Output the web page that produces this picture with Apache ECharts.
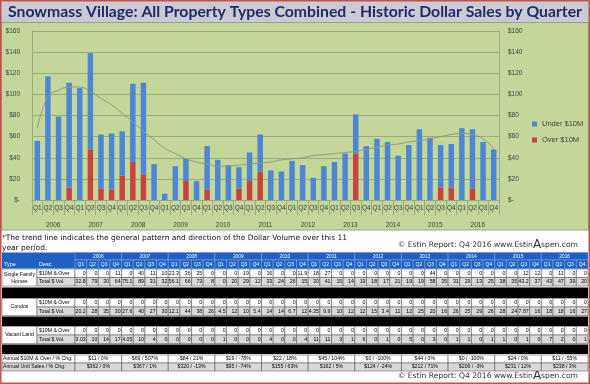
<!DOCTYPE html>
<html><head><meta charset="utf-8">
<script src="https://cdn.jsdelivr.net/npm/echarts@6/dist/echarts.min.js"></script>
<style>html,body{margin:0;padding:0;background:#fff}#c{width:590px;height:384px}</style>
</head><body><div id="c"></div>
<script>
// ---------------- DATA ----------------
const quarters = ['Q1','Q2','Q3','Q4','Q1','Q2','Q3','Q4','Q1','Q2','Q3','Q4','Q1','Q2','Q3','Q4',
  'Q1','Q2','Q3','Q4','Q1','Q2','Q3','Q4','Q1','Q2','Q3','Q4','Q1','Q2','Q3','Q4',
  'Q1','Q2','Q3','Q4','Q1','Q2','Q3','Q4','Q1','Q2','Q3','Q4'];
const years = ['2006','2007','2008','2009','2010','2011','2012','2013','2014','2015','2016'];
const underVals = [56,117,79,99, 106,91,51,53, 42,74,87,34, 6,32,21,18, 41,38,33,20, 27,35,28,27,
  37,33,21,32, 36,44,37,51, 58,55,42,52, 67,59,40,41, 68,56,55,48];
const overVals = [0,0,0,12, 0,48,11,10, 23,36,24,0, 0,0,18,0, 10,0,0,11, 18,27,0,0,
  0,0,0,0, 0,0,44,0, 0,0,0,0, 0,0,12,12, 0,11,0,0];
const trendVals = [68,98,104,107, 107,103,96,90, 82,74,65,57, 49,44,39,36, 34,32,32,33, 34,35,36,38,
  39,40,42,43, 44,45,46,48, 50,52,53,55, 56,58,60,62, 63,62,58,49];
const yTickVals = [0,20,40,60,80,100,120,140,160];

// table data
const sf10  = [0,0,0,11, 0,40,11,10, 23.3,36,25,0, 0,0,19,0, 16,0,0,11.9, 18,27,0,0, 0,0,0,0, 0,0,44,0, 0,0,0,0, 0,0,12,12, 0,11,0,0];
const sfTot = [32.8,79,30,64, 75.1,89,31,32, 56.1,66,73,8, 0,20,29,12, 33,24,26,15, 30,41,15,14, 19,18,17,21, 19,19,58,35, 31,29,13,25, 38,35,43.2,37, 43,47,39,20];
const cd10  = [0,0,0,0, 0,0,0,0, 0,0,0,0, 0,0,0,0, 0,0,0,0, 0,0,0,0, 0,0,0,0, 0,0,0,0, 0,0,0,0, 0,0,0,0, 0,0,0,0];
const cdTot = [20.2,28,35,30, 27.6,40,27,30, 12.1,44,38,26, 4.5,12,10,5.4, 14,14,6.7,12, 4.35,9.9,10,12, 12,15,3.4,11, 12,25,20,16, 26,25,29,26, 28,24,7.87,16, 18,18,16,27];
const ld10  = [0,0,0,0, 0,0,0,0, 0,0,0,0, 0,0,0,0, 0,0,0,0, 0,0,0,0, 0,0,0,0, 0,0,0,0, 0,0,0,0, 0,0,0,0, 0,0,0,0];
const ldTot = [3.03,10,14,17, 4.05,10,4,0, 0,0,0,0, 1,0,0,0, 4,0,0,4, 11,11,3,1, 6,0,1,0, 5,0,3,0, 1,1,0,1, 1,0,1,0, 7,2,0,1];
const annualOver  = ['$11 / 0%','$69 / 507%','$84 / 21%','$19 / -78%','$22 / 18%','$45 / 104%','$0 / -100%','$44 / 0%','$0 / -100%','$24 / 0%','$11 / -55%'];
const annualUnits = ['$362 / 0%','$367 / 1%','$320 / -13%','$95 / -74%','$155 / 63%','$162 / 5%','$124 / -24%','$212 / 71%','$206 / -3%','$231 / 12%','$238 / 3%'];

const titleText = 'Snowmass Village: All Property Types Combined - Historic Dollar Sales by Quarter';
const noteLine1 = '*The trend line indicates the general pattern and direction of the Dollar Volume over this 11';
const noteLine2 = 'year period.';

// ---------------- LAYOUT ----------------
function measure(font, text){ const c=document.createElement('canvas').getContext('2d'); c.font=font; return c.measureText(text).width; }
const G = [];
G.push({type:'rect', z:-10, shape:{x:0,y:0,width:590,height:384}, style:{fill:'#ffffff'}});
G.push({type:'rect', z:-9, shape:{x:1,y:1,width:588,height:21}, style:{fill:'#c9cad3'}});
G.push({type:'rect', z:-9, shape:{x:1.5,y:22.5,width:587,height:207.5}, style:{fill:'#c4d79b', stroke:'#9a9f92', lineWidth:1}});
G.push({type:'rect', z:50, shape:{x:0.75,y:0.75,width:588.5,height:382.5}, style:{fill:null, stroke:'#c8504a', lineWidth:1.5}});

const tw = measure('bold 16px Lato', titleText);
G.push({type:'text', x:8, y:12, scaleX:574/tw, style:{text:titleText, fontSize:16, fontWeight:'bold', fontFamily:'Lato', fill:'#1f2b6b', align:'left', verticalAlign:'middle'}});

const nf = 7.4;
const nw = measure(nf+'px "DejaVu Sans"', noteLine1);
G.push({type:'text', x:2, y:238, scaleX:345/nw, style:{text:noteLine1, fontSize:nf, fontFamily:'DejaVu Sans', fill:'#111', align:'left', verticalAlign:'middle'}});
G.push({type:'text', x:2, y:248.5, scaleX:345/nw, style:{text:noteLine2, fontSize:nf, fontFamily:'DejaVu Sans', fill:'#111', align:'left', verticalAlign:'middle'}});

function credit(y){
  return {type:'text', x:578, y:y, style:{text:'{a|© Estin Report: Q4 2016 www.Estin}{b|A}{a|spen.com}',
    rich:{a:{fontSize:7.6, fontFamily:'DejaVu Sans', fill:'#333'}, b:{fontSize:12, fontFamily:'DejaVu Sans', fill:'#333'}},
    align:'right', verticalAlign:'middle'}};
}
G.push(credit(245));
G.push(credit(376));

// table
const T = {left:2, typeR:37, descR:75, right:588};
const qw = (T.right - T.descR) / quarters.length;
const colX = i => T.descR + i*qw;
const fs = 5.2, ff = 'Liberation Sans';
const hdrBlue = '#1f60c2';
function cell(x,y,w,h,fill,stroke){ G.push({type:'rect', shape:{x:x,y:y,width:w,height:h}, style:{fill:fill, stroke:stroke, lineWidth:0.5}}); }
function txt(x,y,s,align,color,size){ G.push({type:'text', x:x, y:y, style:{text:s, fontSize:size||fs, fontFamily:ff, fill:color||'#000', align:align||'left', verticalAlign:'middle'}}); }
// header
const h1y=252.5, h1h=7.5, h2y=260, h2h=8.5;
cell(T.left,h1y,T.right-T.left,h1h+h2h,hdrBlue,null);
years.forEach((yr,k)=>{ cell(colX(4*k),h1y,4*qw,h1h,hdrBlue,'#8fb3ea'); txt(colX(4*k)+2*qw,h1y+h1h/2,yr,'center','#fff',4.8); });
txt(4,h2y+h2h/2,'Type','left','#fff',5.5); txt(39,h2y+h2h/2,'Desc','left','#fff',5.5);
quarters.forEach((q,i)=>{ cell(colX(i),h2y,qw,h2h,hdrBlue,'#8fb3ea'); txt(colX(i)+qw/2,h2y+h2h/2,q,'center','#fff',5); });
// blocks
const blocks = [
  {y:269, name:['Single Family','Homes'], r1:sf10, r2:sfTot},
  {y:298.5, name:['Condos'], r1:cd10, r2:cdTot},
  {y:326.5, name:['Vacant Land'], r1:ld10, r2:ldTot}
];
const rh = 8.5;
blocks.forEach(b=>{
  cell(T.left,b.y,T.typeR-T.left,2*rh,'#fff','#444');
  if(b.name.length===2){ txt(19.5,b.y+rh*0.6,b.name[0],'center'); txt(19.5,b.y+rh*1.45,b.name[1],'center'); }
  else txt(19.5,b.y+rh,b.name[0],'center');
  cell(T.typeR,b.y,T.descR-T.typeR,rh,'#fff','#444'); txt(39,b.y+rh/2,'$10M & Over');
  cell(T.typeR,b.y+rh,T.descR-T.typeR,rh,'#d9d9d9','#444'); txt(39,b.y+rh*1.5,'Total $ Vol.');
  b.r1.forEach((v,i)=>{ cell(colX(i),b.y,qw,rh,'#fff','#444'); txt(colX(i)+qw-1,b.y+rh/2,String(v),'right'); });
  b.r2.forEach((v,i)=>{ cell(colX(i),b.y+rh,qw,rh,'#d9d9d9','#444'); txt(colX(i)+qw-1,b.y+rh*1.5,String(v),'right'); });
});
[[287.5,10.5],[316.5,9.5],[344.5,9.5]].forEach(([y,h])=>cell(T.left,y,T.right-T.left,h,'#000',null));
// annual rows
const ay=355, ah=8;
cell(T.left,ay,T.descR-T.left,ah,'#fff','#444'); txt(3,ay+ah/2,'Annual $10M & Over / % Chg:');
cell(T.left,ay+ah,T.descR-T.left,ah,'#d9d9d9','#444'); txt(3,ay+ah*1.5,'Annual Unit Sales / % Chg:');
annualOver.forEach((s,k)=>{ cell(colX(4*k),ay,4*qw,ah,'#fff','#444'); txt(colX(4*k)+2*qw,ay+ah/2,s,'center'); });
annualUnits.forEach((s,k)=>{ cell(colX(4*k),ay+ah,4*qw,ah,'#d9d9d9','#444'); txt(colX(4*k)+2*qw,ay+ah*1.5,s,'center'); });

// ---------------- CHART ----------------
const axisCol = '#404040', lineCol = '#9aab82';
const chart = echarts.init(document.getElementById('c'));
chart.setOption({
  animation:false,
  backgroundColor:'transparent',
  graphic:{elements:G},
  grid:{left:32, right:91, top:31, bottom:184, containLabel:false},
  legend:{data:['Under $10M','Over $10M'], orient:'vertical', left:527, top:115, itemWidth:5, itemHeight:5, itemGap:8, icon:'rect',
    textStyle:{fontSize:7.5, color:axisCol, fontFamily:ff}},
  xAxis:[
    {type:'category', data:quarters, position:'bottom', axisLine:{show:true, lineStyle:{color:lineCol}},
     axisTick:{show:true, interval:0, length:15, lineStyle:{color:lineCol}},
     axisLabel:{interval:0, fontSize:6.5, color:axisCol, margin:4.5, fontFamily:ff}},
    {type:'category', data:years, position:'bottom', offset:15, axisLine:{show:false},
     axisTick:{show:true, interval:0, length:15, lineStyle:{color:lineCol}},
     axisLabel:{interval:0, fontSize:6.5, color:axisCol, margin:6.5, fontFamily:ff}}
  ],
  yAxis:[
    {type:'value', min:0, max:160, interval:20, axisLine:{show:true, lineStyle:{color:lineCol}}, axisTick:{show:false},
     splitLine:{lineStyle:{color:lineCol, width:1}},
     axisLabel:{fontSize:6.5, color:axisCol, margin:12, fontFamily:ff, formatter:v=> v===0 ? '$-' : '$'+v}},
    {type:'value', min:0, max:160, interval:20, position:'right', axisLine:{show:true, lineStyle:{color:lineCol}}, axisTick:{show:false},
     splitLine:{show:false},
     axisLabel:{fontSize:6.5, color:axisCol, margin:9, fontFamily:ff, formatter:v=> v===0 ? '$-' : '$'+v}}
  ],
  series:[
    {name:'Over $10M', type:'bar', stack:'t', data:overVals, barWidth:5.5, itemStyle:{color:'#c9433e'}},
    {name:'Under $10M', type:'bar', stack:'t', data:underVals, barWidth:5.5, itemStyle:{color:'#4e86d6'}},
    {name:'Trend', type:'line', yAxisIndex:1, data:trendVals, smooth:0.4, symbol:'none', lineStyle:{color:'#8d9c7a', width:1}, z:5}
  ]
});
</script></body></html>
